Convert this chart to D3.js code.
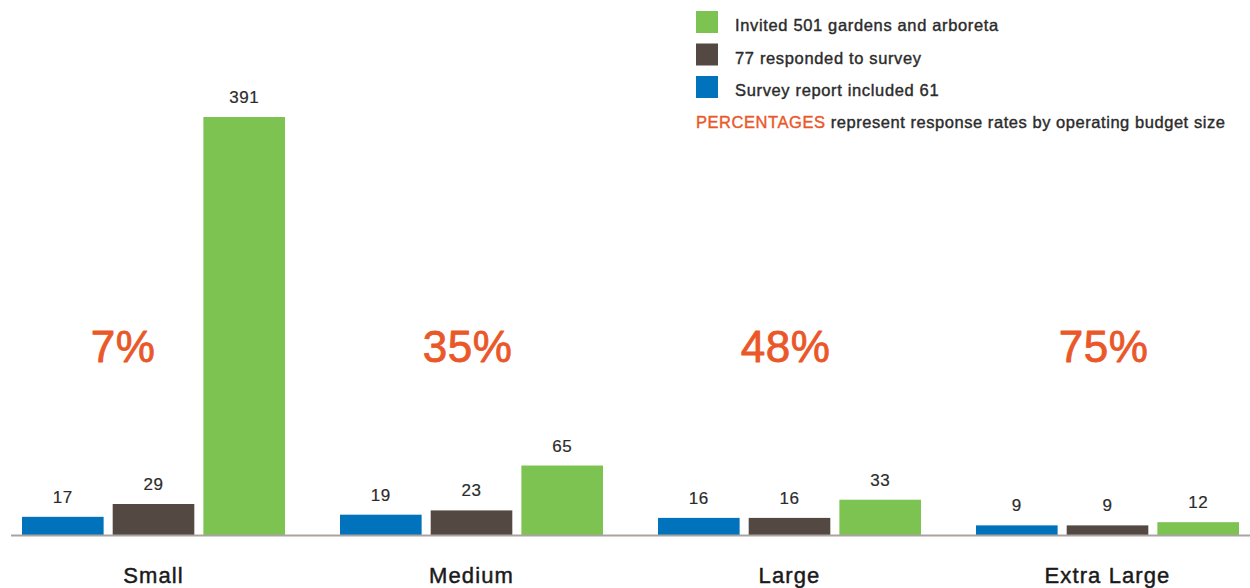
<!DOCTYPE html>
<html>
<head>
<meta charset="utf-8">
<script src="https://cdn.jsdelivr.net/npm/d3@7"></script>
<style>
  html, body { margin: 0; padding: 0; background: #fff; }
  svg { display: block; font-family: "Liberation Sans", Arial, Helvetica, sans-serif; }
  .medium { paint-order: stroke; stroke-linejoin: round; }
</style>
</head>
<body>
<svg id="chart" width="1250" height="588"></svg>
<script>
// Budget-size categories and counts per survey stage
const categories = ["Small", "Medium", "Large", "Extra Large"];
const seriesKeys = ["included", "responded", "invited"];
const includedValues = [17, 19, 16, 9];
const respondedValues = [29, 23, 16, 9];
const invitedValues = [391, 65, 33, 12];
const responseRates = ["7%", "35%", "48%", "75%"];
const legendLabels = [
  "Invited 501 gardens and arboreta",
  "77 responded to survey",
  "Survey report included 61"
];
const legendKeys = ["invited", "responded", "included"];

const colors = {
  invited: "#7dc352",
  responded: "#544842",
  included: "#0073bc"
};
const accent = "#ea5729";
const textColor = "#2b2b2b";

const valuesByKey = {
  included: includedValues,
  responded: respondedValues,
  invited: invitedValues
};
const rows = categories.map((c, i) => ({
  category: c,
  rate: responseRates[i],
  bars: seriesKeys.map(k => ({ key: k, value: valuesByKey[k][i] }))
}));

const svg = d3.select("#chart");
const baseline = 535;
const rateBaseline = 362;

const x0 = d3.scaleBand()
  .domain(categories)
  .range([22, 1239])
  .paddingInner(55 / 318)
  .paddingOuter(0);

const x1 = d3.scaleBand()
  .domain(seriesKeys)
  .range([0, x0.bandwidth()])
  .paddingInner(0.1)
  .paddingOuter(0);

const y = d3.scaleLinear()
  .domain([0, 391])
  .range([baseline, 117]);

// Bars
const groups = svg.append("g")
  .selectAll("g")
  .data(rows)
  .join("g")
  .attr("transform", d => `translate(${x0(d.category)},0)`);

groups.selectAll("rect")
  .data(d => d.bars)
  .join("rect")
  .attr("x", d => x1(d.key))
  .attr("y", d => y(d.value))
  .attr("width", x1.bandwidth())
  .attr("height", d => baseline - y(d.value))
  .attr("fill", d => colors[d.key]);

// Value labels above bars
groups.selectAll("text.value")
  .data(d => d.bars)
  .join("text")
  .attr("class", "value medium")
  .attr("x", d => x1(d.key) + x1.bandwidth() / 2)
  .attr("y", d => y(d.value) - 14)
  .attr("text-anchor", "middle")
  .attr("font-size", 17)
  .attr("letter-spacing", 0.5)
  .attr("fill", textColor)
  .attr("stroke", textColor)
  .attr("stroke-width", 0.2)
  .text(d => d.value);

// Response-rate percentages; when the tallest bar rises past the label,
// the label is tucked to the left of that bar instead of centred.
groups.each(function (d) {
  const g = d3.select(this);
  const t = g.append("text")
    .attr("class", "medium")
    .attr("y", rateBaseline)
    .attr("font-size", 44)
    .attr("letter-spacing", 0.5)
    .attr("fill", accent)
    .attr("stroke", accent)
    .attr("stroke-width", 0.8)
    .text(d.rate);
  const tall = d.bars.find(b => y(b.value) < rateBaseline - 40);
  if (tall) {
    t.attr("text-anchor", "end").attr("x", x1(tall.key) - 48);
  } else {
    t.attr("text-anchor", "middle").attr("x", x0.bandwidth() / 2 - 4);
  }
});

// Baseline axis with category labels
const axis = d3.axisBottom(x0).tickSize(0).tickPadding(0);
const axisG = svg.append("g")
  .attr("transform", `translate(0,${baseline})`)
  .call(axis);
axisG.select(".domain").remove();
axisG.append("line")
  .attr("x1", 11).attr("x2", 1250)
  .attr("y1", 0.5).attr("y2", 0.5)
  .attr("stroke", "#a9a4a0")
  .attr("stroke-width", 2);
axisG.selectAll(".tick text")
  .attr("class", "medium")
  .attr("dy", null)
  .attr("y", 48)
  .attr("font-size", 22)
  .attr("letter-spacing", 1.1)
  .attr("font-family", "Liberation Sans, Arial, sans-serif")
  .attr("fill", "#1a1a1a")
  .attr("stroke", "#1a1a1a")
  .attr("stroke-width", 0.45);

// Legend
const legend = svg.append("g").attr("transform", "translate(696,11)");
const items = legend.selectAll("g")
  .data(legendKeys)
  .join("g")
  .attr("transform", (d, i) => `translate(0,${i * 32.5})`);
items.append("rect")
  .attr("width", 22)
  .attr("height", 22)
  .attr("fill", d => colors[d]);
items.append("text")
  .attr("class", "medium")
  .attr("x", 39)
  .attr("y", 20)
  .attr("font-size", 16.5)
  .attr("letter-spacing", 0.65)
  .attr("fill", textColor)
  .attr("stroke", textColor)
  .attr("stroke-width", 0.4)
  .text((d, i) => legendLabels[i]);

const note = legend.append("text")
  .attr("class", "medium")
  .attr("x", 0)
  .attr("y", 117)
  .attr("font-size", 16.5)
  .attr("letter-spacing", 0.55)
  .attr("fill", textColor)
  .attr("stroke", textColor)
  .attr("stroke-width", 0.4);
note.append("tspan").attr("fill", accent).attr("stroke", accent).text("PERCENTAGES");
note.append("tspan").text(" represent response rates by operating budget size");
</script>
</body>
</html>
